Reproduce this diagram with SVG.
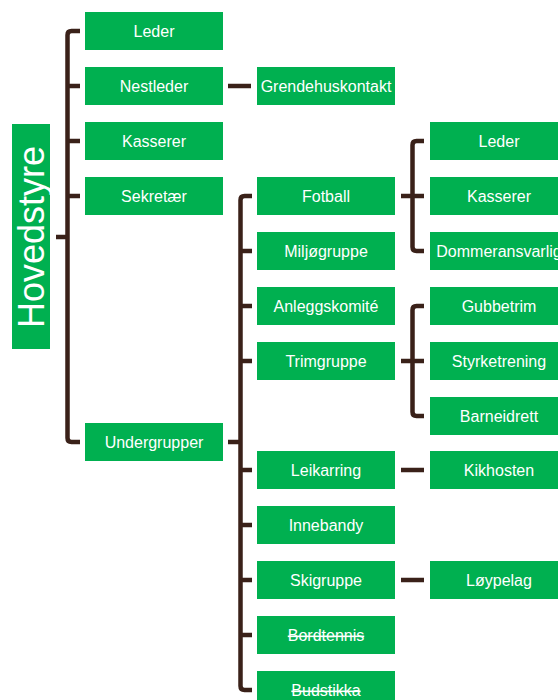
<svg xmlns="http://www.w3.org/2000/svg" width="558" height="700" viewBox="0 0 558 700">
<style>
.b{fill:#00b050;}
.t{font-family:"Liberation Sans",Arial,sans-serif;font-size:16px;fill:#ffffff;text-anchor:middle;}
.s{text-decoration:line-through;}
.c{fill:none;stroke:#3a2119;stroke-width:4.5;}
</style>
<rect width="558" height="700" fill="#ffffff"/>
<g id="connectors">
<path class="c" d="M80,31 H71.5 Q67.5,31 67.5,35 V438 Q67.5,442 71.5,442 H80 M67.5,86 H80 M67.5,141 H80 M67.5,196 H80 M56,237 H67.5"/>
<path class="c" d="M228,86 H251"/>
<path class="c" d="M252,196 H244.5 Q240.5,196 240.5,200 V686 Q240.5,690 244.5,690 H252 M240.5,251 H252 M240.5,306 H252 M240.5,361 H252 M240.5,470 H252 M240.5,525 H252 M240.5,580 H252 M240.5,635 H252 M228,442 H240.5"/>
<path class="c" d="M424,141 H416.5 Q412.5,141 412.5,145 V247 Q412.5,251 416.5,251 H424 M401,196 H424"/>
<path class="c" d="M424,306 H416.5 Q412.5,306 412.5,310 V412 Q412.5,416 416.5,416 H424 M401,361 H424"/>
<path class="c" d="M401,470 H424 M401,580 H424"/>
</g>
<g id="hovedstyre"><rect class="b" x="12" y="124" width="38" height="225"/><text class="t" style="font-size:36px" transform="translate(44,237) rotate(-90)">Hovedstyre</text></g>
<g id="leder"><rect class="b" x="85" y="12" width="138" height="38"/><text class="t" x="154" y="37">Leder</text></g>
<g id="nestleder"><rect class="b" x="85" y="67" width="138" height="38"/><text class="t" x="154" y="92">Nestleder</text></g>
<g id="kasserer"><rect class="b" x="85" y="122" width="138" height="38"/><text class="t" x="154" y="147">Kasserer</text></g>
<g id="sekretaer"><rect class="b" x="85" y="177" width="138" height="38"/><text class="t" x="154" y="202">Sekretær</text></g>
<g id="undergrupper"><rect class="b" x="85" y="423" width="138" height="38"/><text class="t" x="154" y="448">Undergrupper</text></g>
<g id="grendehuskontakt"><rect class="b" x="257" y="67" width="138" height="38"/><text class="t" x="326" y="92">Grendehuskontakt</text></g>
<g id="fotball"><rect class="b" x="257" y="177" width="138" height="38"/><text class="t" x="326" y="202">Fotball</text></g>
<g id="miljogruppe"><rect class="b" x="257" y="232" width="138" height="38"/><text class="t" x="326" y="257">Miljøgruppe</text></g>
<g id="anleggskomite"><rect class="b" x="257" y="287" width="138" height="38"/><text class="t" x="326" y="312">Anleggskomité</text></g>
<g id="trimgruppe"><rect class="b" x="257" y="342" width="138" height="38"/><text class="t" x="326" y="367">Trimgruppe</text></g>
<g id="leikarring"><rect class="b" x="257" y="451" width="138" height="38"/><text class="t" x="326" y="476">Leikarring</text></g>
<g id="innebandy"><rect class="b" x="257" y="506" width="138" height="38"/><text class="t" x="326" y="531">Innebandy</text></g>
<g id="skigruppe"><rect class="b" x="257" y="561" width="138" height="38"/><text class="t" x="326" y="586">Skigruppe</text></g>
<g id="bordtennis"><rect class="b" x="257" y="616" width="138" height="38"/><text class="t s" x="326" y="641">Bordtennis</text></g>
<g id="budstikka"><rect class="b" x="257" y="671" width="138" height="38"/><text class="t s" x="326" y="696">Budstikka</text></g>
<g id="fotball-leder"><rect class="b" x="430" y="122" width="138" height="38"/><text class="t" x="499" y="147">Leder</text></g>
<g id="fotball-kasserer"><rect class="b" x="430" y="177" width="138" height="38"/><text class="t" x="499" y="202">Kasserer</text></g>
<g id="dommeransvarlig"><rect class="b" x="430" y="232" width="138" height="38"/><text class="t" x="499" y="257">Dommeransvarlig</text></g>
<g id="gubbetrim"><rect class="b" x="430" y="287" width="138" height="38"/><text class="t" x="499" y="312">Gubbetrim</text></g>
<g id="styrketrening"><rect class="b" x="430" y="342" width="138" height="38"/><text class="t" x="499" y="367">Styrketrening</text></g>
<g id="barneidrett"><rect class="b" x="430" y="397" width="138" height="38"/><text class="t" x="499" y="422">Barneidrett</text></g>
<g id="kikhosten"><rect class="b" x="430" y="451" width="138" height="38"/><text class="t" x="499" y="476">Kikhosten</text></g>
<g id="loypelag"><rect class="b" x="430" y="561" width="138" height="38"/><text class="t" x="499" y="586">Løypelag</text></g>
</svg>
